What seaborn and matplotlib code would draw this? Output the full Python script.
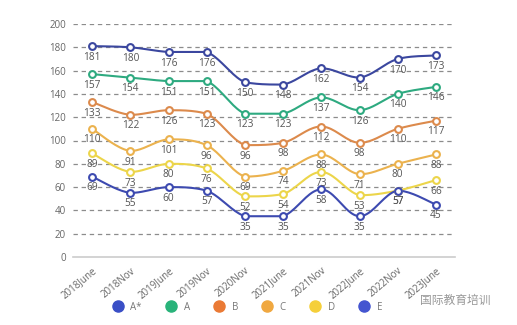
import numpy as np
import pandas as pd
import matplotlib
matplotlib.use("Agg")
import matplotlib.pyplot as plt
import seaborn as sns
from matplotlib.lines import Line2D

categories = ["2018June", "2018Nov", "2019June", "2019Nov", "2020Nov",
              "2021June", "2021Nov", "2022June", "2022Nov", "2023June"]
a_star = [181, 180, 176, 176, 150, 148, 162, 154, 170, 173]
a_grade = [157, 154, 151, 151, 123, 123, 137, 126, 140, 146]
b_grade = [133, 122, 126, 123, 96, 98, 112, 98, 110, 117]
c_grade = [110, 91, 101, 96, 69, 74, 88, 71, 80, 88]
d_grade = [89, 73, 80, 76, 52, 54, 73, 53, 57, 66]
e_grade = [69, 55, 60, 57, 35, 35, 58, 35, 57, 45]
series_names = ["A*", "A", "B", "C", "D", "E"]
yticks = [0, 20, 40, 60, 80, 100, 120, 140, 160, 180, 200]

line_colors = ["#3b479f", "#2eaa80", "#dc8a4c", "#ebb24e", "#ecd54a", "#3d4ab0"]
legend_colors = ["#3a4fc6", "#29b37a", "#ea7a35", "#f0a840", "#f5cf3a", "#4455d0"]

series = [a_star, a_grade, b_grade, c_grade, d_grade, e_grade]

sns.set_theme(style="white")
plt.rcParams['font.family'] = ['Open Sans', 'Noto Sans CJK SC', 'DejaVu Sans']

fig = plt.figure(figsize=(5.17, 3.25), dpi=100)
ax = fig.add_axes([73/517, 1-257/325, (455-73)/517, (257-24)/325])


def smooth(xs, ys, n=20, t=0.35):
    xs = np.asarray(xs, float); ys = np.asarray(ys, float)
    ox, oy = [], []
    for i in range(len(xs) - 1):
        p0 = np.array([xs[max(i-1, 0)], ys[max(i-1, 0)]])
        p1 = np.array([xs[i], ys[i]])
        p2 = np.array([xs[i+1], ys[i+1]])
        p3 = np.array([xs[min(i+2, len(xs)-1)], ys[min(i+2, len(xs)-1)]])
        c1 = p1 + (p2 - p0) * t / 2
        c2 = p2 - (p3 - p1) * t / 2
        lo, hi = min(p1[1], p2[1]), max(p1[1], p2[1])
        c1[1] = np.clip(c1[1], lo, hi); c2[1] = np.clip(c2[1], lo, hi)
        s = np.linspace(0, 1, n, endpoint=(i == len(xs) - 2))
        pts = ((1-s)**3)[:, None]*p1 + (3*(1-s)**2*s)[:, None]*c1 + (3*(1-s)*s**2)[:, None]*c2 + (s**3)[:, None]*p2
        ox.extend(pts[:, 0]); oy.extend(pts[:, 1])
    return np.array(ox), np.array(oy)


xpos = np.arange(len(categories))
for name, vals, col in zip(series_names, series, line_colors):
    sx, sy = smooth(xpos, vals)
    sns.lineplot(x=sx, y=sy, ax=ax, color=col, linewidth=1.5, sort=False, estimator=None, zorder=3)
    df = pd.DataFrame({"x": xpos, "y": vals})
    sns.scatterplot(data=df, x="x", y="y", ax=ax, s=24, facecolor="white",
                    edgecolor=col, linewidth=1.5, zorder=4)
    for xi, v in zip(xpos, vals):
        ax.annotate(str(v), (xi, v), xytext=(0, -4), textcoords="offset points",
                    ha="center", va="top", fontsize=7.3, color="#555555", zorder=5)

ax.set_xlim(-0.5, len(categories) - 0.5)
ax.set_ylim(0, 200)
ax.set_yticks(yticks)
ax.set_yticklabels([str(v) for v in yticks], fontsize=7, color="#666666")
ax.set_xticks(xpos)
ax.set_xticklabels(categories, rotation=40, ha="right", rotation_mode="anchor",
                   fontsize=7, color="#666666")
ax.tick_params(axis="both", length=0, pad=5)
ax.tick_params(axis="x", pad=6)
for yv in yticks[1:]:
    ax.axhline(yv, color="#8c8c8c", linestyle=(0, (3.5, 3)), linewidth=0.9, zorder=1)
for sp in ["top", "right", "left"]:
    ax.spines[sp].set_visible(False)
ax.spines["bottom"].set_color("#cccccc")
ax.spines["bottom"].set_linewidth(1.2)
ax.set_xlabel(""); ax.set_ylabel("")
ax.set_facecolor("white")

handles = [Line2D([0], [0], marker="o", linestyle="none", markersize=8,
                  markerfacecolor=c, markeredgecolor=c) for c in legend_colors]
fig.legend(handles, series_names, loc="center", bbox_to_anchor=(245/517, 1-307/325),
           ncol=6, frameon=False, fontsize=7, handletextpad=0.3, columnspacing=2.0,
           labelcolor="#777777")

fig.text(455/517, 1-300/325, "国际教育培训", fontsize=8.5, color="#999999",
         ha="center", va="center", family=['Noto Sans CJK SC', 'DejaVu Sans'])

fig.savefig("out.png", dpi=100, facecolor="white")
